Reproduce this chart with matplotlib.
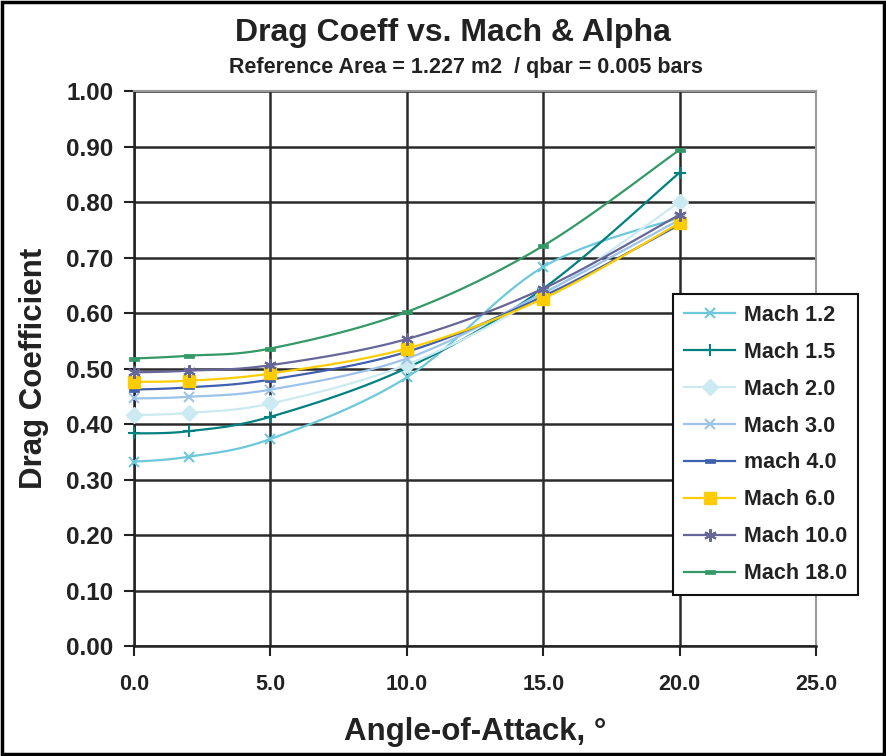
import numpy as np
import matplotlib
matplotlib.use("Agg")
import matplotlib.pyplot as plt
from matplotlib.patches import Rectangle

# ---- data -------------------------------------------------------------
alpha = [0, 2, 5, 10, 15, 20]

mach_labels = ["Mach 1.2", "Mach 1.5", "Mach 2.0", "Mach 3.0",
               "mach 4.0", "Mach 6.0", "Mach 10.0", "Mach 18.0"]

cd_mach_1_2 = [0.332, 0.341, 0.373, 0.484, 0.683, 0.772]
cd_mach_1_5 = [0.383, 0.387, 0.413, 0.501, 0.644, 0.853]
cd_mach_2_0 = [0.416, 0.420, 0.437, 0.507, 0.632, 0.800]
cd_mach_3_0 = [0.446, 0.449, 0.462, 0.518, 0.636, 0.768]
cd_mach_4_0 = [0.462, 0.466, 0.480, 0.530, 0.630, 0.759]
cd_mach_6_0 = [0.476, 0.478, 0.491, 0.536, 0.626, 0.762]
cd_mach_10_0 = [0.493, 0.496, 0.506, 0.553, 0.644, 0.777]
cd_mach_18_0 = [0.518, 0.523, 0.536, 0.602, 0.721, 0.894]

series = [cd_mach_1_2, cd_mach_1_5, cd_mach_2_0, cd_mach_3_0,
          cd_mach_4_0, cd_mach_6_0, cd_mach_10_0, cd_mach_18_0]

x_ticks = [0.0, 5.0, 10.0, 15.0, 20.0, 25.0]
y_ticks = [0.0, 0.1, 0.2, 0.3, 0.4, 0.5, 0.6, 0.7, 0.8, 0.9, 1.0]

# ---- styles -----------------------------------------------------------
bar_marker = [(-1.6, -0.8), (1.6, -0.8), (1.6, 0.8), (-1.6, 0.8), (-1.6, -0.8)]
styles = [
    dict(color="#6CC8DA", marker="x", ms=7, mew=1.5),
    dict(color="#008080", marker="+", ms=8, mew=1.5),
    dict(color="#CCEAF2", marker="D", ms=8, mew=1.0),
    dict(color="#9DC3E8", marker="x", ms=7, mew=1.5),
    dict(color="#3F5FAF", marker=bar_marker, ms=7, mew=0.5),
    dict(color="#FFCC00", marker="s", ms=9, mew=1.0),
    dict(color="#666699", marker=(6, 2, 0), ms=9, mew=1.5),
    dict(color="#339966", marker=bar_marker, ms=7, mew=0.5),
]

plt.rcParams["font.family"] = ["Liberation Sans", "DejaVu Sans"]
ink = "#222222"

fig = plt.figure(figsize=(8.86, 7.56), dpi=100)
ax = fig.add_axes([134 / 886, 1 - 646 / 756, (816 - 134) / 886, (646 - 91) / 756])
ax.set_xlim(0, 25)
ax.set_ylim(0, 1.0)


def smooth(xs, ys, n=24):
    """Catmull-Rom style Bezier smoothing done in display space."""
    pts = ax.transData.transform(np.column_stack([xs, ys]))
    out = [pts[0]]
    idx = [0]
    m = len(pts)
    for i in range(m - 1):
        p0 = pts[max(i - 1, 0)]
        p1 = pts[i]
        p2 = pts[i + 1]
        p3 = pts[min(i + 2, m - 1)]
        c1 = p1 + (p2 - p0) / 6.0
        c2 = p2 - (p3 - p1) / 6.0
        t = np.linspace(0, 1, n + 1)[1:, None]
        seg = ((1 - t) ** 3) * p1 + 3 * ((1 - t) ** 2) * t * c1 \
            + 3 * (1 - t) * t ** 2 * c2 + t ** 3 * p2
        out.extend(seg)
        idx.append(len(out) - 1)
    out = ax.transData.inverted().transform(np.array(out))
    return out[:, 0], out[:, 1], idx


for label, ys, st in zip(mach_labels, series, styles):
    sx, sy, idx = smooth(alpha, ys)
    ax.plot(sx, sy, color=st["color"], lw=1.6, marker=st["marker"],
            ms=st["ms"], mew=st["mew"], mec=st["color"], mfc=st["color"],
            markevery=idx, label=label, zorder=3, clip_on=False)

ax.set_xticks(x_ticks)
ax.set_yticks(y_ticks)
ax.set_xticklabels([f"{v:.1f}" for v in x_ticks], fontsize=15.5,
                   fontweight="bold")
ax.set_yticklabels([f"{v:.2f}" for v in y_ticks], fontsize=17.5,
                   fontweight="bold")
ax.tick_params(axis="both", direction="out", length=7, width=1.5,
               color=ink, labelcolor=ink)
ax.tick_params(axis="x", pad=13)
ax.tick_params(axis="y", pad=8)

ax.grid(True, color="#2a2a2a", lw=1.8, zorder=1)
ax.set_axisbelow(True)
for side in ("left", "bottom"):
    ax.spines[side].set_color(ink)
    ax.spines[side].set_linewidth(1.8)
for side in ("top", "right"):
    ax.spines[side].set_color("#999999")
    ax.spines[side].set_linewidth(1.5)

ax.set_xlabel("Angle-of-Attack, °", fontsize=22.5, fontweight="bold",
              color=ink, labelpad=16)
ax.set_ylabel("Drag Coefficient", fontsize=22.5, fontweight="bold",
              color=ink, labelpad=12)

fig.text(453 / 886, 1 - 33 / 756, "Drag Coeff vs. Mach & Alpha",
         ha="center", va="center", fontsize=23, fontweight="bold", color=ink)
fig.text(466 / 886, 1 - 68 / 756, "Reference Area = 1.227 m2  / qbar = 0.005 bars",
         ha="center", va="center", fontsize=15.5, fontweight="bold", color=ink)

leg = ax.legend(loc="upper left", bbox_to_anchor=(673 / 886, 1 - 294 / 756),
                bbox_transform=fig.transFigure,
                prop=dict(weight="bold", size=15.5), frameon=True,
                fancybox=False, framealpha=1, edgecolor="#111111",
                handlelength=2.4, labelspacing=0.74, borderpad=0.5,
                handletextpad=0.4, borderaxespad=0)
leg.get_frame().set_linewidth(1.5)
for t in leg.get_texts():
    t.set_color(ink)

# outer frame around the whole chart
fig.patches.append(Rectangle((0.002, 0.002), 0.996, 0.996, transform=fig.transFigure,
                             fill=False, edgecolor="black", lw=2.5))

fig.savefig("out.png", dpi=100, facecolor="white")
